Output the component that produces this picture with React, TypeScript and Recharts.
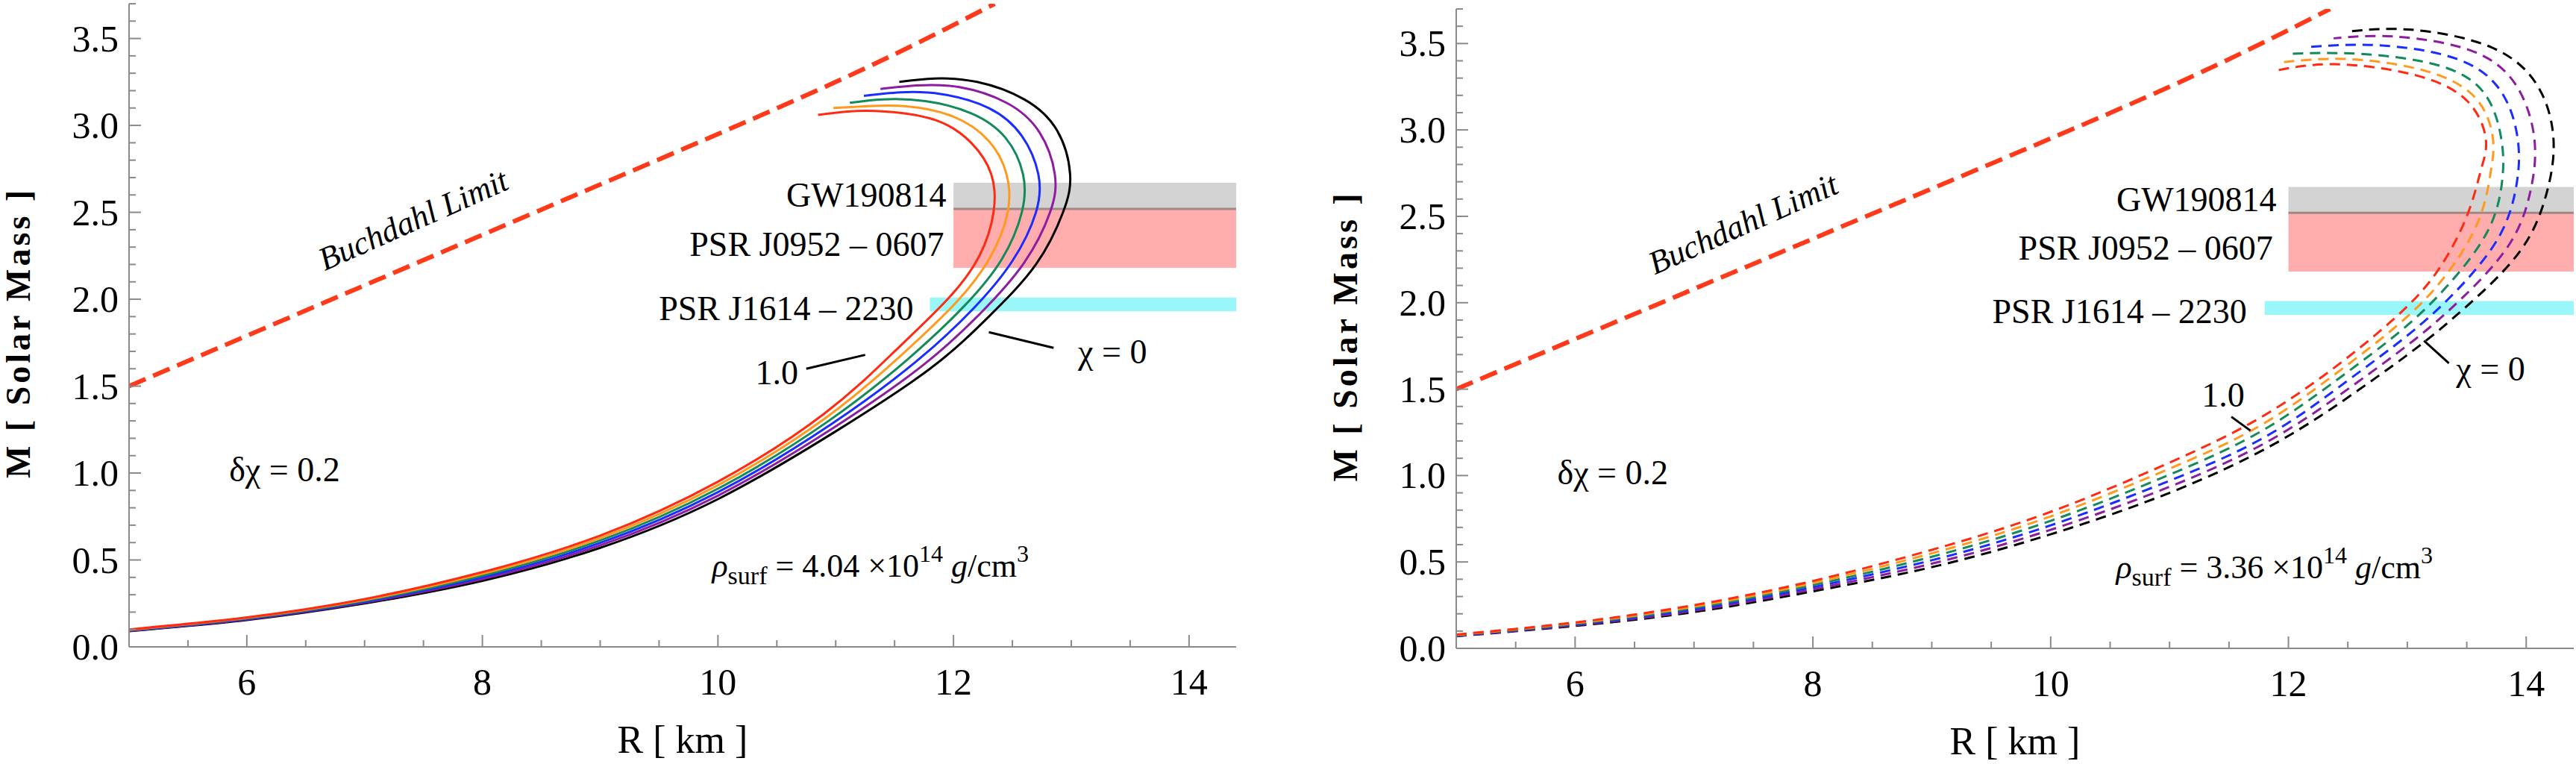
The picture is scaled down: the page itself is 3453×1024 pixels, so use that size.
import React from "react";
import {
  LineChart,
  Line,
  XAxis,
  YAxis,
  ReferenceArea,
  ReferenceLine,
  ReferenceDot,
} from "recharts";

// chi = 0, 0.2, 0.4, 0.6, 0.8, 1.0
const chiColors = ["#000000", "#8e1c9e", "#1a2cff", "#138a5a", "#ff9a1e", "#ff2a12"];

const leftCurves: [number, number][][] = [
  [[5,0.09],[6,0.155],[7,0.25],[8,0.38],[9,0.57],[10,0.85],[11,1.24],[11.8,1.6],[12.3,1.9],[12.7,2.2],[12.93,2.5],[12.99,2.72],[12.88,2.97],[12.6,3.15],[12.2,3.25],[11.84,3.27],[11.54,3.25]],
  [[5,0.092],[6,0.158],[7,0.255],[8,0.39],[9,0.584],[10,0.87],[10.98,1.26],[11.74,1.62],[12.23,1.92],[12.6,2.21],[12.82,2.5],[12.86,2.72],[12.73,2.96],[12.45,3.13],[12.05,3.22],[11.69,3.23],[11.38,3.21]],
  [[5,0.094],[6,0.161],[7,0.26],[8,0.4],[9,0.598],[10,0.89],[10.96,1.28],[11.68,1.64],[12.16,1.94],[12.5,2.22],[12.7,2.5],[12.72,2.72],[12.58,2.94],[12.3,3.1],[11.9,3.18],[11.55,3.19],[11.24,3.17]],
  [[5,0.096],[6,0.164],[7,0.265],[8,0.41],[9,0.612],[10,0.91],[10.94,1.3],[11.62,1.66],[12.09,1.96],[12.41,2.23],[12.58,2.5],[12.59,2.72],[12.44,2.93],[12.15,3.07],[11.76,3.14],[11.4,3.15],[11.12,3.13]],
  [[5,0.098],[6,0.167],[7,0.27],[8,0.42],[9,0.626],[10,0.93],[10.92,1.32],[11.56,1.68],[12.02,1.98],[12.31,2.24],[12.46,2.5],[12.45,2.72],[12.3,2.91],[12.0,3.05],[11.6,3.11],[11.25,3.11],[10.98,3.1]],
  [[5,0.1],[6,0.17],[7,0.275],[8,0.43],[9,0.64],[10,0.95],[10.9,1.34],[11.5,1.7],[11.95,2.0],[12.22,2.25],[12.34,2.5],[12.32,2.72],[12.15,2.9],[11.85,3.03],[11.42,3.08],[11.1,3.08],[10.85,3.06]],
];

const rightCurves: [number, number][][] = [
  [[5,0.07],[6,0.13],[7,0.21],[8,0.33],[9,0.47],[10,0.66],[11,0.9],[11.9,1.19],[12.6,1.5],[13.1,1.75],[13.5,1.98],[13.95,2.3],[14.17,2.63],[14.23,2.94],[14.1,3.25],[13.7,3.48],[13.03,3.58],[12.52,3.57]],
  [[5,0.072],[6,0.134],[7,0.218],[8,0.342],[9,0.49],[10,0.686],[11,0.935],[11.86,1.21],[12.54,1.52],[13.05,1.78],[13.45,2.02],[13.86,2.34],[14.04,2.66],[14.07,2.94],[13.94,3.23],[13.57,3.45],[12.9,3.54],[12.38,3.53]],
  [[5,0.074],[6,0.138],[7,0.226],[8,0.354],[9,0.51],[10,0.712],[11,0.97],[11.82,1.23],[12.48,1.54],[13.0,1.81],[13.4,2.06],[13.77,2.38],[13.92,2.69],[13.93,2.94],[13.8,3.21],[13.42,3.41],[12.75,3.49],[12.17,3.48]],
  [[5,0.076],[6,0.142],[7,0.234],[8,0.366],[9,0.53],[10,0.738],[11,1.005],[11.78,1.26],[12.42,1.56],[12.95,1.84],[13.34,2.1],[13.68,2.42],[13.8,2.72],[13.79,2.95],[13.66,3.2],[13.28,3.37],[12.6,3.44],[12.0,3.44]],
  [[5,0.078],[6,0.146],[7,0.242],[8,0.378],[9,0.55],[10,0.764],[11,1.04],[11.74,1.28],[12.36,1.57],[12.9,1.86],[13.29,2.13],[13.59,2.46],[13.7,2.75],[13.72,2.95],[13.58,3.18],[13.16,3.34],[12.5,3.41],[11.93,3.39]],
  [[5,0.08],[6,0.15],[7,0.25],[8,0.39],[9,0.57],[10,0.79],[11,1.075],[11.7,1.31],[12.3,1.58],[12.86,1.89],[13.24,2.17],[13.5,2.5],[13.62,2.77],[13.66,2.95],[13.5,3.17],[13.05,3.32],[12.38,3.38],[11.87,3.34]],
];

const buchdahl: [number, number][] = [[5,1.5],[7,2.08],[9,2.66],[11,3.25],[12.35,3.7]];

const xTicks = [5,5.5,6,6.5,7,7.5,8,8.5,9,9.5,10,10.5,11,11.5,12,12.5,13,13.5,14];
const yTicks = [0,0.1,0.2,0.3,0.4,0.5,0.6,0.7,0.8,0.9,1,1.1,1.2,1.3,1.4,1.5,1.6,1.7,1.8,1.9,2,2.1,2.2,2.3,2.4,2.5,2.6,2.7,2.8,2.9,3,3.1,3.2,3.3,3.4,3.5,3.6,3.7];

const FONT = "'Liberation Serif', 'DejaVu Serif', 'Noto Serif', serif";
const FRAME = "#8a8a8a";

const toPts = (arr: [number, number][]) => arr.map(([x, y]) => ({ x, y }));

const isMajor = (v: number, step: number) => Math.abs(v / step - Math.round(v / step)) < 1e-6;

const BottomTick = (props: any) => {
  const { x, y, payload } = props;
  const major = isMajor(payload.value, 2);
  return (
    <g>
      <line x1={x} x2={x} y1={y} y2={y - (major ? 16 : 9)} stroke={FRAME} strokeWidth={2} />
      {major && (
        <text x={x} y={y + 64} textAnchor="middle" fontSize={50} fontFamily={FONT} fill="#000">
          {payload.value}
        </text>
      )}
    </g>
  );
};

const TopTick = (props: any) => {
  const { x, y, payload } = props;
  const major = isMajor(payload.value, 2);
  return <line x1={x} x2={x} y1={y} y2={y + (major ? 16 : 9)} stroke={FRAME} strokeWidth={2} />;
};

const LeftTick = (props: any) => {
  const { x, y, payload } = props;
  const major = isMajor(payload.value, 0.5);
  return (
    <g>
      <line x1={x} x2={x + (major ? 16 : 9)} y1={y} y2={y} stroke={FRAME} strokeWidth={2} />
      {major && (
        <text x={x - 14} y={y + 17} textAnchor="end" fontSize={50} fontFamily={FONT} fill="#000">
          {payload.value.toFixed(1)}
        </text>
      )}
    </g>
  );
};

const RightTick = (props: any) => {
  const { x, y, payload } = props;
  const major = isMajor(payload.value, 0.5);
  return <line x1={x} x2={x - (major ? 16 : 9)} y1={y} y2={y} stroke={FRAME} strokeWidth={2} />;
};

const textLabel =
  (text: string, anchor: string, size = 46, italic = false) =>
  ({ viewBox }: any) =>
    (
      <text
        x={viewBox.x}
        y={viewBox.y + size * 0.35}
        textAnchor={anchor}
        fontSize={size}
        fontFamily={FONT}
        fontStyle={italic ? "italic" : "normal"}
        fill="#000"
      >
        {text}
      </text>
    );

const rhoLabel =
  (value: string) =>
  ({ viewBox }: any) =>
    (
      <text x={viewBox.x} y={viewBox.y + 15} fontSize={44} fontFamily={FONT} fill="#000">
        <tspan fontStyle="italic">ρ</tspan>
        <tspan fontSize={34} dy={10}>surf</tspan>
        <tspan dy={-10}>{` = ${value} ×10`}</tspan>
        <tspan fontSize={32} dy={-20}>14</tspan>
        <tspan dy={20} fontStyle="italic">{" g"}</tspan>
        <tspan>{"/cm"}</tspan>
        <tspan fontSize={32} dy={-20}>3</tspan>
      </text>
    );

const buchdahlLabel = ({ viewBox }: any) => (
  <text
    x={viewBox.x}
    y={viewBox.y}
    textAnchor="middle"
    fontSize={44}
    fontFamily={FONT}
    fontStyle="italic"
    fill="#000"
    transform={`rotate(-24 ${viewBox.x} ${viewBox.y})`}
  >
    Buchdahl Limit
  </text>
);

type PanelProps = {
  curves: [number, number][][];
  dashed: boolean;
  yAxisWidth: number;
  xAxisHeight: number;
  margin: { top: number; right: number; left: number; bottom: number };
  rho: string;
  oneLabel: [number, number];
  oneLine: [number, number][];
  chiLabel: [number, number];
  chiLine: [number, number][];
  gwX: number;
  j0952X: number;
  j1614X: number;
};

function Panel(p: PanelProps) {
  return (
    <LineChart width={1726} height={1024} margin={p.margin}>
      <XAxis
        xAxisId={0}
        dataKey="x"
        type="number"
        domain={[5, 14.4]}
        ticks={xTicks}
        interval={0}
        height={p.xAxisHeight}
        tickSize={0}
        tickMargin={0}
        tickLine={false}
        tick={<BottomTick />}
        axisLine={{ stroke: FRAME, strokeWidth: 2 }}
        allowDataOverflow
        label={({ viewBox }: any) => (
          <text x={viewBox.x + viewBox.width / 2} y={viewBox.y + 142} textAnchor="middle" fontSize={52} fontFamily={FONT}>
            R  [ km ]
          </text>
        )}
      />
      <XAxis
        xAxisId="top"
        orientation="top"
        dataKey="x"
        type="number"
        domain={[5, 14.4]}
        ticks={xTicks}
        interval={0}
        height={0}
        tickSize={0}
        tickLine={false}
        tick={<TopTick />}
        axisLine={{ stroke: FRAME, strokeWidth: 2 }}
      />
      <YAxis
        yAxisId={0}
        type="number"
        domain={[0, 3.7]}
        ticks={yTicks}
        interval={0}
        width={p.yAxisWidth}
        tickSize={0}
        tickMargin={0}
        tickLine={false}
        tick={<LeftTick />}
        axisLine={{ stroke: FRAME, strokeWidth: 2 }}
        allowDataOverflow
        label={({ viewBox }: any) => {
          const cx = viewBox.x + viewBox.width - 133;
          const cy = viewBox.y + viewBox.height / 2 + 10;
          return (
            <text x={cx} y={cy} textAnchor="middle" fontSize={46} fontWeight="bold" fontFamily={FONT} letterSpacing={4} transform={`rotate(-90 ${cx} ${cy})`}>
              M  [ Solar  Mass ]
            </text>
          );
        }}
      />
      <YAxis
        yAxisId="right"
        orientation="right"
        type="number"
        domain={[0, 3.7]}
        ticks={yTicks}
        interval={0}
        width={0}
        tickSize={0}
        tickLine={false}
        tick={<RightTick />}
        axisLine={{ stroke: FRAME, strokeWidth: 2 }}
      />

      <ReferenceArea x1={12} x2={14.4} y1={2.52} y2={2.67} fill="#c8c8c8" fillOpacity={0.8} stroke="none" />
      <ReferenceArea x1={12} x2={14.4} y1={2.18} y2={2.52} fill="#ff8a8a" fillOpacity={0.7} stroke="none" />
      <ReferenceLine segment={[{ x: 12, y: 2.52 }, { x: 14.4, y: 2.52 }]} stroke="#a08888" strokeWidth={3} />
      <ReferenceArea x1={11.8} x2={14.4} y1={1.93} y2={2.01} fill="#80f4f8" fillOpacity={0.8} stroke="none" />

      <Line
        data={toPts(buchdahl)}
        dataKey="y"
        type="natural"
        stroke="#ff3a1a"
        strokeWidth={6}
        strokeDasharray="24 11"
        dot={false}
        isAnimationActive={false}
      />

      {p.curves.map((c, i) => (
        <Line
          key={i}
          data={toPts(c)}
          dataKey="y"
          type="natural"
          stroke={chiColors[i]}
          strokeWidth={3}
          strokeDasharray={p.dashed ? "14 9" : undefined}
          dot={false}
          isAnimationActive={false}
        />
      ))}

      <ReferenceLine segment={p.oneLine.map(([x, y]) => ({ x, y }))} stroke="#000" strokeWidth={3} />
      <ReferenceLine segment={p.chiLine.map(([x, y]) => ({ x, y }))} stroke="#000" strokeWidth={3} />

      <ReferenceDot x={p.gwX} y={2.6} r={0} fill="none" stroke="none" label={textLabel("GW190814", "end")} />
      <ReferenceDot x={p.j0952X} y={2.32} r={0} fill="none" stroke="none" label={textLabel("PSR J0952 – 0607", "end")} />
      <ReferenceDot x={p.j1614X} y={1.95} r={0} fill="none" stroke="none" label={textLabel("PSR J1614 – 2230", "end")} />
      <ReferenceDot x={p.oneLabel[0]} y={p.oneLabel[1]} r={0} fill="none" stroke="none" label={textLabel("1.0", "middle")} />
      <ReferenceDot x={p.chiLabel[0]} y={p.chiLabel[1]} r={0} fill="none" stroke="none" label={textLabel("χ = 0", "middle")} />
      <ReferenceDot x={5.85} y={1.02} r={0} fill="none" stroke="none" label={textLabel("δχ = 0.2", "start")} />
      <ReferenceDot x={7.45} y={2.4} r={0} fill="none" stroke="none" label={buchdahlLabel} />
      <ReferenceDot x={p.rho === "4.04" ? 9.95 : 10.55} y={0.47} r={0} fill="none" stroke="none" label={rhoLabel(p.rho)} />
    </LineChart>
  );
}

export default function App() {
  return (
    <div style={{ position: "absolute", left: 0, top: 0, width: 3453, height: 1024, background: "#fff" }}>
      <div style={{ position: "absolute", left: 0, top: 0 }}>
        <Panel
          curves={leftCurves}
          dashed={false}
          yAxisWidth={173}
          xAxisHeight={157}
          margin={{ top: 5, right: 69, left: 0, bottom: 0 }}
          rho="4.04"
          oneLabel={[10.5, 1.58]}
          oneLine={[[10.75, 1.6], [11.25, 1.68]]}
          chiLabel={[13.35, 1.7]}
          chiLine={[[12.3, 1.81], [12.85, 1.72]]}
          gwX={11.94}
          j0952X={11.92}
          j1614X={11.66}
        />
      </div>
      <div style={{ position: "absolute", left: 1727, top: 0 }}>
        <Panel
          curves={rightCurves}
          dashed={true}
          yAxisWidth={225}
          xAxisHeight={155}
          margin={{ top: 12, right: 3, left: 0, bottom: 0 }}
          rho="3.36"
          oneLabel={[11.45, 1.47]}
          oneLine={[[11.52, 1.34], [11.68, 1.26]]}
          chiLabel={[13.7, 1.62]}
          chiLine={[[13.14, 1.78], [13.35, 1.65]]}
          gwX={11.9}
          j0952X={11.87}
          j1614X={11.65}
        />
      </div>
    </div>
  );
}
